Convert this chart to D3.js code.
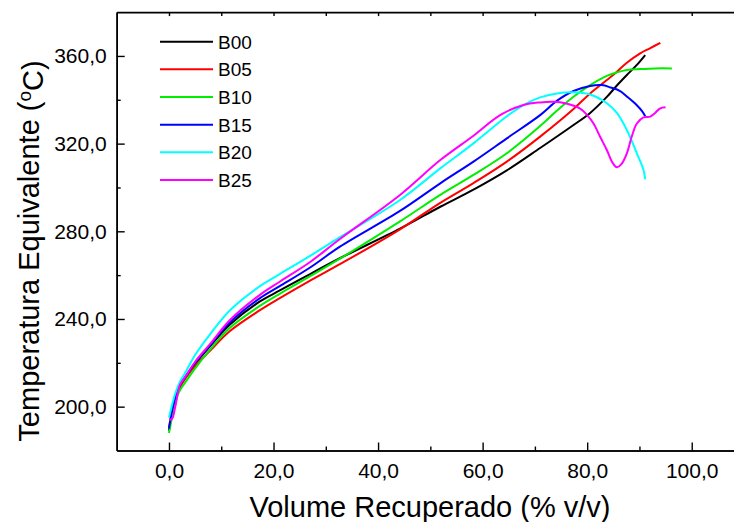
<!DOCTYPE html>
<html>
<head>
<meta charset="utf-8">
<script src="https://cdn.jsdelivr.net/npm/d3@7"></script>
<style>
  body { margin: 0; background: #fff; }
  svg { font-family: "Liberation Sans", Arial, sans-serif; }
</style>
</head>
<body>
<svg width="734" height="522"></svg>
<script>
// curves (volume % v/v, temperature °C)
const seriesNames = ["B00", "B05", "B10", "B15", "B20", "B25"];
const seriesColors = ["#000000", "#ff0000", "#00ee00", "#0000ff", "#00ffff", "#ff00ff"];

const b00 = [[0,189],[0.5,196],[1.2,203],[2.1,209],[3.1,213],[5,219.5],[7.85,227.5],[11.67,237.5],[17.4,248],[21.2,253],[27,260.5],[32.7,267.7],[44.2,281.2],[51.9,291.2],[58.25,299],[64.63,307.8],[71,318],[77.39,328.5],[80.57,334],[83.76,341.3],[85.68,346.5],[87.59,351.3],[89.5,355.9],[91.1,360.4]];
const b05 = [[0,190],[0.5,197],[1.2,203],[2.1,209],[3.1,212.8],[5,218.5],[7.85,225.5],[11.67,234.5],[17.4,244],[21.2,249.5],[27,257.5],[32.7,265],[44.2,280.9],[51.9,293],[58.25,302],[64.63,311.8],[71,323.2],[77.39,335.8],[80.57,342.9],[83.76,349],[85.68,352.8],[87.59,356.9],[90.14,361.2],[92,363.5],[94,366]];
const b10 = [[0,188],[0.5,194],[1.2,201],[1.7,205.5],[2.1,207.5],[3.1,211],[5,217.5],[7.85,226],[11.67,236],[17.4,246],[21.2,251.5],[27,259.5],[32.7,267.5],[44.2,284.5],[51.9,296.6],[58.25,305.7],[64.63,315.6],[71,328],[74.19,335],[77.39,341.4],[80.57,346.7],[83.76,350.9],[85.68,352.5],[87.59,353.6],[90.14,354],[93,354.3],[96.2,354.3]];
const b15 = [[0,190],[0.5,197],[1.2,204],[2.1,209.9],[3.1,213.5],[5,220],[7.85,228],[11.67,238.5],[17.4,249.5],[21.2,255],[27,263.5],[32.7,273],[44.2,289.3],[51.9,301.9],[58.25,311.8],[64.63,322.4],[71,333],[74.19,339.5],[77.39,344],[80.57,346.3],[82.8,346.7],[84.5,345.6],[86.3,344],[87.59,341.5],[89.5,337.5],[90.5,334.8],[91.1,332.5]];
const b20 = [[0,195],[0.5,200],[1.2,206],[2.1,211.4],[3.1,215.5],[5,223.6],[7.85,233],[11.67,244],[17.4,255],[21.2,260.5],[27,268.8],[32.7,277.3],[44.2,294.3],[51.9,308.7],[58.25,320.1],[64.63,332.5],[67.82,337.6],[71,341.1],[74.19,342.9],[77.39,343.4],[80.57,342.4],[83.76,338.4],[85.68,334],[87.59,326.2],[89.5,315.6],[90.78,308],[91.1,303.7]];
const b25 = [[0,194],[0.6,194.5],[1.2,200],[2.1,209.9],[3.1,213.5],[5,220.5],[7.85,228.5],[11.67,239.5],[17.4,251],[21.2,257],[27,266],[32.7,276.5],[44.2,296.6],[51.9,312.5],[58.25,323.6],[63.35,333],[67.82,337.6],[71,338.8],[73.56,339.1],[76,338.3],[78.66,336],[80,333],[81.21,329.2],[82.5,323],[83.76,317.1],[84.8,311.5],[85.68,309.2],[86.5,310.5],[87.59,315.6],[88.5,323],[89.5,329.2],[90.78,332],[92.06,332.3],[93,334],[93.97,336.1],[95,336.6]];
const allSeries = [b00, b05, b10, b15, b20, b25];

const xMajor = [0, 20, 40, 60, 80, 100];
const xMinor = [10, 30, 50, 70, 90];
const yMajor = [200, 240, 280, 320, 360];
const yMinor = [220, 260, 300, 340];

const svg = d3.select('svg');

const x = d3.scaleLinear().domain([-10, 110]).range([116.7, 744]);
const y = d3.scaleLinear().domain([180, 380]).range([450.5, 12.1]);

const locale = d3.formatLocale({decimal: ",", thousands: ".", grouping: [3], currency: ["", ""]});
const fmt = locale.format(".1f");

// curves
const line = d3.line()
	.x(d => x(d[0]))
	.y(d => y(d[1]))
	.curve(d3.curveCatmullRom.alpha(0.5));

svg.append('g')
	.selectAll('path')
	.data(allSeries)
	.join('path')
	.attr('d', line)
	.attr('fill', 'none')
	.attr('stroke', (d, i) => seriesColors[i])
	.attr('stroke-width', 2)
	.attr('stroke-linejoin', 'round');

// axes (ticks point inward like Origin)
const styleAxis = g => {
	g.select('.domain').attr('stroke', '#000').attr('stroke-width', 1.6);
	g.selectAll('.tick line').attr('stroke', '#000').attr('stroke-width', 1.4);
	g.selectAll('.tick text').attr('fill', '#000').style('font-size', '21px');
};

svg.append('g')
	.attr('transform', `translate(0,${y(180)})`)
	.call(d3.axisBottom(x).tickValues(xMajor).tickSize(-8).tickSizeOuter(0).tickPadding(13).tickFormat(fmt))
	.call(styleAxis);

svg.append('g')
	.attr('transform', `translate(0,${y(180)})`)
	.call(d3.axisBottom(x).tickValues(xMinor).tickSize(-4).tickSizeOuter(0).tickFormat(''))
	.call(styleAxis);

svg.append('g')
	.attr('transform', `translate(${x(-10)},0)`)
	.call(d3.axisLeft(y).tickValues(yMajor).tickSize(-8).tickSizeOuter(0).tickPadding(10).tickFormat(fmt))
	.call(styleAxis);

svg.append('g')
	.attr('transform', `translate(${x(-10)},0)`)
	.call(d3.axisLeft(y).tickValues(yMinor).tickSize(-4).tickSizeOuter(0).tickFormat(''))
	.call(styleAxis);

// top frame with small ticks
svg.append('g')
	.attr('transform', `translate(0,${y(380)})`)
	.call(d3.axisTop(x).tickValues(xMajor.concat(xMinor)).tickSize(-4).tickSizeOuter(0).tickFormat(''))
	.call(styleAxis);

svg.append('g')
	.attr('transform', `translate(${x(110)},0)`)
	.call(d3.axisRight(y).tickValues(yMajor.concat(yMinor)).tickSize(-4).tickSizeOuter(0).tickFormat(''))
	.call(styleAxis);

// axis titles
svg.append('text')
	.attr('x', 430)
	.attr('y', 517)
	.attr('text-anchor', 'middle')
	.style('font-size', '29px')
	.text('Volume Recuperado (% v/v)');

const yt = svg.append('text')
	.attr('transform', 'translate(39,251) rotate(-90)')
	.attr('text-anchor', 'middle')
	.style('font-size', '29px');
yt.append('tspan').text('Temperatura Equivalente (');
yt.append('tspan').attr('dy', '-0.42em').style('font-size', '19px').text('o');
yt.append('tspan').attr('dy', '0.42em').text('C)');

// legend
const legend = svg.append('g')
	.selectAll('g')
	.data(seriesNames)
	.join('g')
	.attr('transform', (d, i) => `translate(160,${41.7 + i * 27.66})`);

legend.append('line')
	.attr('x1', 0).attr('x2', 53)
	.attr('stroke', (d, i) => seriesColors[i])
	.attr('stroke-width', 2);

legend.append('text')
	.attr('x', 58)
	.attr('dy', '0.36em')
	.style('font-size', '19px')
	.text(d => d);
</script>
</body>
</html>
